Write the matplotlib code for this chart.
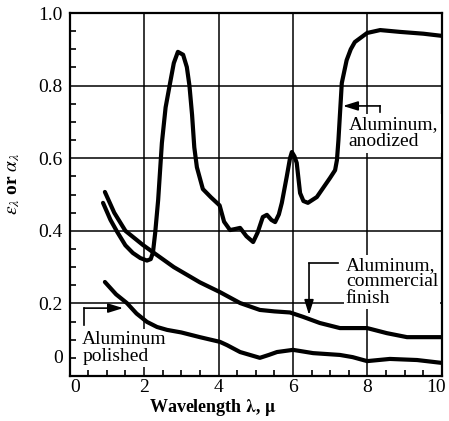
import matplotlib
matplotlib.use("Agg")
import matplotlib.pyplot as plt
from matplotlib.ticker import MultipleLocator

plt.rcParams['font.family'] = ['Liberation Serif', 'DejaVu Serif']
plt.rcParams['mathtext.fontset'] = 'stix'

# ---- data ----
anod_x = [0.90, 1.10, 1.28, 1.50, 1.70, 1.90, 2.08, 2.18, 2.24, 2.30, 2.38, 2.48, 2.58, 2.70,
          2.80, 2.91, 3.05, 3.15, 3.22, 3.29, 3.35, 3.42, 3.58, 3.80, 4.03, 4.15, 4.31, 4.45,
          4.58, 4.75, 4.93, 5.05, 5.19, 5.30, 5.42, 5.52, 5.62, 5.70, 5.83, 5.92, 5.97, 6.04,
          6.10, 6.19, 6.28, 6.40, 6.64, 6.99, 7.13, 7.18, 7.22, 7.26, 7.31, 7.44, 7.55, 7.66,
          7.99, 8.34, 8.87, 9.50, 10.0]
anod_y = [0.477, 0.430, 0.397, 0.360, 0.339, 0.325, 0.318, 0.322, 0.340, 0.394, 0.485, 0.642,
          0.740, 0.807, 0.862, 0.893, 0.885, 0.851, 0.800, 0.720, 0.630, 0.575, 0.515, 0.492,
          0.470, 0.425, 0.402, 0.405, 0.408, 0.385, 0.369, 0.395, 0.438, 0.444, 0.430, 0.424,
          0.445, 0.477, 0.548, 0.600, 0.617, 0.605, 0.587, 0.504, 0.482, 0.477, 0.493, 0.545,
          0.567, 0.595, 0.650, 0.720, 0.807, 0.870, 0.900, 0.920, 0.945, 0.953, 0.948, 0.943, 0.937]

comm_x = [0.95, 1.20, 1.50, 1.97, 2.35, 2.80, 3.20, 3.50, 4.04, 4.58, 5.11, 5.50, 5.92, 6.27,
          6.72, 7.26, 7.99, 8.52, 9.06, 10.0]
comm_y = [0.507, 0.450, 0.400, 0.361, 0.333, 0.300, 0.276, 0.258, 0.231, 0.201, 0.182, 0.178,
          0.175, 0.163, 0.146, 0.132, 0.132, 0.118, 0.107, 0.107]

pol_x = [0.95, 1.25, 1.54, 1.80, 2.08, 2.35, 2.62, 3.00, 3.50, 4.04, 4.23, 4.58, 5.11, 5.35,
         5.57, 6.00, 6.54, 7.26, 7.60, 7.99, 8.60, 9.33, 10.0]
pol_y = [0.259, 0.225, 0.201, 0.172, 0.149, 0.135, 0.127, 0.120, 0.107, 0.094, 0.085, 0.066,
         0.050, 0.058, 0.066, 0.072, 0.063, 0.058, 0.052, 0.041, 0.047, 0.044, 0.036]

x_ticks = [0, 2, 4, 6, 8, 10]
y_ticks = [0.0, 0.2, 0.4, 0.6, 0.8, 1.0]
x_ticklabels = ['', '2', '4', '6', '8', '']
y_ticklabels = ['', '0.2', '0.4', '0.6', '0.8', '1.0']

fig = plt.figure(figsize=(4.49, 4.21), dpi=100)
ax = fig.add_axes([0.1548, 0.1069, 0.8296, 0.8622])
ax.set_xlim(0, 10)
ax.set_ylim(0, 1.0)

ax.set_xticks(x_ticks)
ax.set_yticks(y_ticks)
ax.set_xticklabels(x_ticklabels)
ax.set_yticklabels(y_ticklabels)
ax.xaxis.set_minor_locator(MultipleLocator(0.5))
ax.yaxis.set_minor_locator(MultipleLocator(0.05))
ax.tick_params(which='major', length=0, labelsize=14)
ax.tick_params(axis='x', which='major', pad=2)
ax.tick_params(axis='y', which='major', pad=5)
ax.tick_params(which='minor', direction='in', length=4, width=1.2)
ax.grid(True, which='major', color='black', lw=1.1, zorder=1)
ax.set_axisbelow(True)
for s in ax.spines.values():
    s.set_linewidth(1.6)

# manually placed "0" and "10" labels
ax.text(-0.17, 0.047, '0', ha='right', va='center', fontsize=14)
ax.text(0.15, -0.008, '0', ha='center', va='top', fontsize=14)
ax.text(9.85, -0.008, '10', ha='center', va='top', fontsize=14, clip_on=False)

kw = dict(color='black', lw=3.0, solid_capstyle='round', solid_joinstyle='round', zorder=5)
ax.plot(anod_x, anod_y, **kw)
ax.plot(comm_x, comm_y, **kw)
ax.plot(pol_x, pol_y, **kw)

box = dict(facecolor='white', edgecolor='none', pad=1.5)
ax.text(7.5, 0.669, 'Aluminum,\nanodized', ha='left', va='center', fontsize=14,
        linespacing=1.05, bbox=box, zorder=3)
ax.text(7.42, 0.259, 'Aluminum,\ncommercial\nfinish', ha='left', va='center', fontsize=14,
        linespacing=0.98, bbox=box, zorder=3)
ax.text(0.34, 0.078, 'Aluminum\npolished', ha='left', va='center', fontsize=14,
        linespacing=1.0, bbox=box, zorder=3)

# leaders with arrows
lk = dict(color='black', lw=1.2, zorder=4)
arr = dict(arrowstyle='-|>,head_length=0.9,head_width=0.28', color='black', lw=1.2,
           shrinkA=0, shrinkB=0)
ax.plot([8.34, 8.34], [0.727, 0.744], **lk)
ax.annotate('', xy=(7.34, 0.744), xytext=(8.34, 0.744), arrowprops=arr, zorder=4)
ax.plot([7.21, 6.43], [0.311, 0.311], **lk)
ax.annotate('', xy=(6.43, 0.168), xytext=(6.43, 0.311), arrowprops=arr, zorder=4)
ax.plot([0.39, 0.39], [0.14, 0.187], **lk)
ax.annotate('', xy=(1.44, 0.187), xytext=(0.39, 0.187), arrowprops=arr, zorder=4)

fig.text(213 / 449, 1 - 407 / 421, r'Wavelength $\mathbf{\lambda}$, $\mathbf{\mu}$',
         ha='center', va='center', fontsize=13, fontweight='bold')
fig.text(14 / 449, 1 - 184 / 421, r'$\varepsilon_\lambda$ or $\alpha_\lambda$',
         ha='center', va='center', rotation=90, fontsize=14, fontweight='bold')

fig.savefig('out.png', dpi=100)
